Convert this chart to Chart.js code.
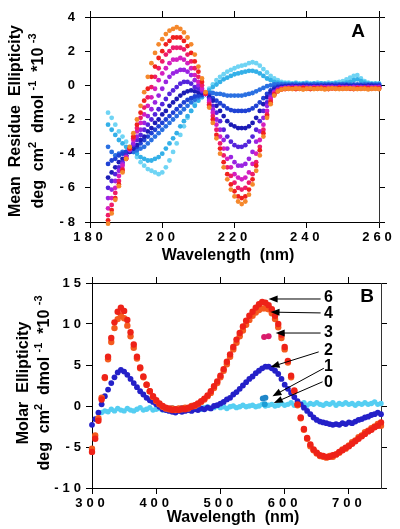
<!DOCTYPE html>
<html lang="en">
<head>
<meta charset="UTF-8" />
<title>CD titration spectra</title>
<script src="https://cdn.jsdelivr.net/npm/chart.js"></script>
<style>
  html, body { margin: 0; padding: 0; background: #fff; }
  body { position: relative; width: 400px; height: 529px; overflow: hidden; }
  canvas { position: absolute; left: 0; }
  #chartA { top: 0; }
  #chartB { top: 265px; }
</style>
</head>
<body>
<canvas id="chartA" width="400" height="265"></canvas>
<canvas id="chartB" width="400" height="264"></canvas>
<script>
// ---------- Panel A : mean residue ellipticity (x10^-3), 185-260 nm ----------
const wavelengthsA = [
  185,186,187,188,189,190,191,192,193,194,
  195,196,197,198,199,200,201,202,203,204,
  205,206,207,208,209,210,211,212,213,214,
  215,216,217,218,219,220,221,222,223,224,
  225,226,227,228,229,230,231,232,233,234,
  235,236,237,238,239,240,241,242,243,244,
  245,246,247,248,249,250,251,252,253,254,
  255,256,257,258,259,260
];

// titration steps, lightest cyan (none added) to orange (most added)
const stepA0 = [
  -1.6,-1.9,-2.3,-2.7,-3.0,-3.3,-3.6,-3.9,-4.2,-4.5,
  -4.7,-4.9,-5.0,-5.1,-5.2,-5.1,-4.8,-4.4,-3.9,-3.4,
  -2.9,-2.4,-1.9,-1.5,-1.1,-0.8,-0.6,-0.45,-0.2,0.05,
  0.3,0.5,0.65,0.8,0.9,1.0,1.1,1.15,1.2,1.3,
  1.35,1.3,1.15,0.95,0.75,0.55,0.4,0.3,0.2,0.15,
  0.15,0.12,0.15,0.1,0.12,0.15,0.1,0.12,0.15,0.12,
  0.1,0.15,0.12,0.15,0.2,0.25,0.35,0.45,0.55,0.6,
  0.4,0.25,0.15,0.12,0.1,0.12
];
const stepA1 = [
  -2.3,-2.6,-2.9,-3.2,-3.4,-3.6,-3.7,-3.9,-4.0,-4.2,
  -4.3,-4.4,-4.4,-4.3,-4.2,-4.0,-3.7,-3.4,-3.1,-2.8,
  -2.4,-2.1,-1.8,-1.5,-1.2,-0.9,-0.7,-0.45,-0.3,-0.1,
  0.05,0.2,0.35,0.45,0.55,0.65,0.7,0.75,0.8,0.85,
  0.85,0.8,0.7,0.55,0.4,0.3,0.2,0.15,0.12,0.1,
  0.1,0.08,0.11,0.09,0.1,0.12,0.08,0.1,0.09,0.11,
  0.1,0.08,0.1,0.12,0.09,0.1,0.15,0.2,0.3,0.35,
  0.25,0.15,0.1,0.09,0.1,0.08
];
const stepA2 = [
  -3.6,-3.9,-4.1,-4.0,-3.9,-3.9,-3.9,-3.9,-3.8,-3.7,
  -3.6,-3.4,-3.2,-3.0,-2.8,-2.6,-2.4,-2.2,-2.0,-1.8,
  -1.6,-1.4,-1.2,-1.0,-0.85,-0.7,-0.6,-0.5,-0.45,-0.45,
  -0.5,-0.5,-0.55,-0.6,-0.6,-0.6,-0.6,-0.6,-0.55,-0.5,
  -0.45,-0.35,-0.25,-0.15,-0.05,0.0,0.05,0.05,0.05,0.05,
  0.04,0.06,0.05,0.03,0.06,0.05,0.04,0.07,0.05,0.04,
  0.06,0.05,0.04,0.06,0.05,0.07,0.05,0.04,0.06,0.05,
  0.04,0.06,0.05,0.05,0.04,0.06
];
const stepA3 = [
  -4.6,-4.4,-4.3,-4.1,-4.0,-3.9,-3.8,-3.7,-3.6,-3.4,
  -3.2,-3.0,-2.8,-2.6,-2.4,-2.2,-2.0,-1.8,-1.6,-1.4,
  -1.2,-1.0,-0.85,-0.75,-0.65,-0.6,-0.55,-0.5,-0.6,-0.75,
  -0.9,-1.05,-1.2,-1.35,-1.45,-1.5,-1.5,-1.5,-1.5,-1.45,
  -1.35,-1.2,-1.0,-0.75,-0.5,-0.3,-0.15,-0.08,-0.05,-0.03,
  -0.02,0.0,-0.03,-0.01,0.01,-0.02,0.0,-0.03,-0.01,0.0,
  -0.02,0.01,-0.01,-0.02,0.0,-0.01,0.01,-0.02,0.0,-0.01,
  0.0,-0.02,-0.01,0.01,-0.01,0.0
];
const stepA4 = [
  -5.4,-5.1,-4.8,-4.5,-4.3,-4.1,-3.9,-3.7,-3.5,-3.2,
  -3.0,-2.7,-2.5,-2.2,-2.0,-1.7,-1.5,-1.2,-1.0,-0.8,
  -0.6,-0.45,-0.35,-0.3,-0.35,-0.4,-0.45,-0.5,-0.7,-0.9,
  -1.2,-1.5,-1.8,-2.1,-2.3,-2.4,-2.5,-2.5,-2.5,-2.4,
  -2.2,-1.9,-1.5,-1.1,-0.7,-0.4,-0.25,-0.15,-0.1,-0.08,
  -0.06,-0.08,-0.05,-0.07,-0.06,-0.04,-0.07,-0.05,-0.06,-0.08,
  -0.05,-0.06,-0.04,-0.07,-0.05,-0.06,-0.04,-0.06,-0.05,-0.07,
  -0.05,-0.06,-0.04,-0.05,-0.06,-0.05
];
const stepA5 = [
  -6.0,-5.6,-5.2,-4.8,-4.5,-4.1,-3.8,-3.5,-3.2,-2.9,
  -2.6,-2.3,-2.0,-1.7,-1.4,-1.1,-0.8,-0.5,-0.3,-0.1,
  0.1,0.2,0.2,0.1,-0.1,-0.2,-0.35,-0.5,-0.8,-1.2,
  -1.6,-2.1,-2.6,-3.0,-3.3,-3.5,-3.6,-3.6,-3.5,-3.3,
  -3.0,-2.6,-2.1,-1.5,-1.0,-0.6,-0.35,-0.2,-0.15,-0.12,
  -0.1,-0.08,-0.11,-0.09,-0.1,-0.07,-0.1,-0.09,-0.11,-0.08,
  -0.1,-0.09,-0.07,-0.1,-0.08,-0.1,-0.09,-0.11,-0.08,-0.1,
  -0.09,-0.1,-0.08,-0.1,-0.09,-0.08
];
const stepA6 = [
  -6.6,-6.1,-5.6,-5.0,-4.6,-4.2,-3.8,-3.4,-3.0,-2.6,
  -2.2,-1.8,-1.4,-1.0,-0.6,-0.2,0.2,0.5,0.7,0.8,
  0.9,0.9,0.8,0.6,0.3,0.0,-0.3,-0.5,-0.9,-1.4,
  -2.0,-2.6,-3.2,-3.7,-4.2,-4.5,-4.7,-4.7,-4.6,-4.3,
  -3.9,-3.3,-2.7,-1.9,-1.2,-0.7,-0.4,-0.25,-0.18,-0.15,
  -0.12,-0.14,-0.1,-0.13,-0.11,-0.12,-0.14,-0.1,-0.12,-0.13,
  -0.11,-0.12,-0.1,-0.13,-0.12,-0.1,-0.12,-0.14,-0.11,-0.12,
  -0.1,-0.12,-0.13,-0.11,-0.12,-0.1
];
const stepA7 = [
  -7.2,-6.6,-6.0,-5.3,-4.7,-4.2,-3.7,-3.2,-2.7,-2.2,
  -1.7,-1.2,-0.7,-0.2,0.3,0.7,1.0,1.3,1.5,1.5,
  1.6,1.5,1.3,1.0,0.6,0.2,-0.2,-0.5,-1.0,-1.6,
  -2.3,-3.0,-3.7,-4.3,-4.8,-5.2,-5.4,-5.5,-5.4,-5.1,
  -4.6,-4.0,-3.2,-2.3,-1.5,-0.8,-0.45,-0.28,-0.2,-0.18,
  -0.15,-0.17,-0.14,-0.16,-0.13,-0.15,-0.17,-0.14,-0.15,-0.13,
  -0.16,-0.14,-0.15,-0.17,-0.13,-0.15,-0.14,-0.16,-0.15,-0.13,
  -0.15,-0.16,-0.14,-0.15,-0.13,-0.15
];
const stepA8 = [
  -7.6,-7.0,-6.3,-5.6,-4.9,-4.3,-3.7,-3.1,-2.5,-1.9,
  -1.3,-0.7,-0.1,0.5,1.0,1.4,1.8,2.0,2.2,2.2,
  2.2,2.1,1.8,1.4,1.0,0.5,0.0,-0.5,-1.1,-1.8,
  -2.6,-3.4,-4.1,-4.8,-5.3,-5.7,-6.0,-6.1,-6.0,-5.7,
  -5.2,-4.5,-3.6,-2.6,-1.7,-0.9,-0.5,-0.3,-0.22,-0.2,
  -0.18,-0.16,-0.2,-0.17,-0.15,-0.18,-0.2,-0.16,-0.18,-0.15,
  -0.18,-0.2,-0.16,-0.18,-0.15,-0.17,-0.18,-0.16,-0.2,-0.17,
  -0.18,-0.15,-0.17,-0.18,-0.16,-0.18
];
const stepA9 = [
  -7.9,-7.3,-6.6,-5.8,-5.0,-4.3,-3.7,-3.0,-2.3,-1.6,
  -0.9,-0.2,0.5,1.1,1.6,2.0,2.4,2.6,2.8,2.8,
  2.8,2.6,2.3,1.9,1.4,0.8,0.2,-0.45,-1.2,-2.0,
  -2.9,-3.7,-4.5,-5.2,-5.8,-6.2,-6.5,-6.6,-6.5,-6.1,
  -5.5,-4.7,-3.8,-2.8,-1.8,-1.0,-0.55,-0.35,-0.25,-0.22,
  -0.2,-0.18,-0.22,-0.2,-0.16,-0.2,-0.22,-0.18,-0.2,-0.17,
  -0.2,-0.22,-0.18,-0.2,-0.16,-0.2,-0.18,-0.2,-0.22,-0.18,
  -0.2,-0.17,-0.2,-0.2,-0.18,-0.2
];
const stepA10 = [
  -8.1,-7.5,-6.7,-5.9,-5.1,-4.3,-3.6,-2.8,-2.0,-1.2,
  -0.4,0.5,1.3,1.9,2.4,2.7,3.0,3.2,3.3,3.4,
  3.3,3.1,2.8,2.4,1.8,1.1,0.4,-0.4,-1.3,-2.2,
  -3.1,-4.0,-4.8,-5.5,-6.1,-6.5,-6.8,-6.95,-6.8,-6.4,
  -5.8,-5.0,-4.1,-3.0,-1.9,-1.1,-0.6,-0.35,-0.25,-0.2,
  -0.2,-0.22,-0.18,-0.2,-0.25,-0.2,-0.18,-0.22,-0.2,-0.2,
  -0.24,-0.2,-0.18,-0.2,-0.22,-0.2,-0.2,-0.18,-0.2,-0.22,
  -0.2,-0.2,-0.24,-0.2,-0.2,-0.22
];
const stepsA = [stepA0, stepA1, stepA2, stepA3, stepA4, stepA5, stepA6, stepA7, stepA8, stepA9, stepA10];
const colorsA = ['#6fd4f4', '#34b0e8', '#2a70e2', '#1f42d4', '#1c1cb6', '#5424dc',
                 '#9a24e2', '#d41fc0', '#ee1c6a', '#f0201e', '#f5882c'];

// ---------- Panel B : molar ellipticity (x10^-3), 300-750 nm ----------
const wavelengthsB = [
  300,305,310,315,320,325,330,335,340,345,
  350,355,360,365,370,375,380,385,390,395,
  400,405,410,415,420,425,430,435,440,445,
  450,455,460,465,470,475,480,485,490,495,
  500,505,510,515,520,525,530,535,540,545,
  550,555,560,565,570,575,580,585,590,595,
  600,605,610,615,620,625,630,635,640,645,
  650,655,660,665,670,675,680,685,690,695,
  700,705,710,715,720,725,730,735,740,745,
  750
];
const eqB0 = [
  null,null,null,-0.8,-0.6,-0.7,-0.4,-0.6,-0.3,-0.5,
  -0.6,-0.3,-0.5,-0.6,-0.4,-0.2,-0.5,-0.4,-0.2,-0.5,
  -0.4,-0.3,-0.5,-0.3,-0.4,-0.2,-0.4,-0.3,-0.2,-0.4,
  -0.3,-0.1,-0.3,-0.2,-0.4,-0.2,-0.1,-0.3,-0.2,0.0,
  -0.2,-0.1,-0.3,-0.1,0.0,-0.2,-0.1,0.1,-0.1,0.0,
  0.1,-0.1,0.0,0.2,0.0,0.1,0.2,0.0,0.1,0.3,
  0.1,0.2,0.4,0.1,0.3,0.2,0.4,0.1,0.3,0.2,
  0.4,0.2,0.1,0.3,0.2,0.4,0.1,0.3,0.2,0.4,
  0.2,0.3,0.1,0.3,0.2,0.4,0.2,0.3,0.5,0.2,
  0.3
];
const eqB2 = [
  -2.3,-1.6,-0.8,0.2,1.2,2.0,2.8,3.5,4.1,4.4,
  4.2,3.8,3.3,2.8,2.3,1.8,1.4,1.0,0.7,0.5,
  0.2,-0.1,-0.4,-0.5,-0.6,-0.7,-0.8,-0.6,-0.7,-0.6,
  -0.5,-0.6,-0.4,-0.5,-0.3,-0.4,-0.2,-0.3,0.0,0.1,
  0.3,0.5,0.8,1.0,1.4,1.7,2.1,2.5,2.9,3.3,
  3.6,4.0,4.3,4.6,4.8,4.8,4.6,4.3,3.9,3.3,
  2.6,2.1,1.6,1.1,0.6,0.2,-0.2,-0.6,-1.0,-1.4,
  -1.7,-1.9,-2.0,-2.1,-2.2,-2.3,-2.2,-2.3,-2.1,-2.2,
  -2.0,-2.1,-1.9,-1.7,-1.6,-1.4,-1.3,-1.1,-1.0,-0.8,
  -1.0
];
const eqB4 = [
  -5.2,-3.6,-1.5,1.0,3.4,5.7,7.8,9.5,10.6,11.0,
  10.7,9.8,8.5,7.1,5.8,4.6,3.5,2.6,1.8,1.1,
  0.6,0.2,-0.1,-0.3,-0.4,-0.3,-0.5,-0.3,-0.4,-0.2,
  -0.3,0.0,0.0,0.2,0.5,0.8,1.2,1.6,2.2,2.8,
  3.5,4.3,5.1,6.0,6.9,7.7,8.5,9.2,9.9,10.5,
  11.0,11.4,11.7,11.9,11.9,11.8,11.3,10.6,9.6,8.3,
  6.9,5.3,3.5,1.8,0.1,-1.5,-2.9,-4.0,-4.9,-5.4,
  -5.8,-6.1,-6.2,-6.3,-6.1,-6.2,-5.9,-5.7,-5.3,-5.2,
  -4.8,-4.4,-4.2,-3.8,-3.6,-3.2,-3.0,-2.7,-2.5,-2.2,
  -2.4
];
const eqB6 = [
  -5.6,-4.0,-1.8,0.8,3.5,6.0,8.3,10.2,11.5,12.0,
  11.6,10.5,9.0,7.5,6.0,4.7,3.6,2.6,1.8,1.2,
  0.7,0.3,0.0,-0.2,-0.3,-0.5,-0.4,-0.5,-0.3,-0.4,
  -0.2,-0.1,0.1,0.3,0.6,0.9,1.3,1.8,2.4,3.0,
  3.7,4.5,5.4,6.3,7.2,8.1,8.9,9.7,10.4,11.0,
  11.5,12.0,12.4,12.7,12.6,12.3,11.8,11.0,10.0,8.7,
  7.2,5.5,3.7,1.9,0.2,-1.4,-2.8,-3.9,-4.7,-5.3,
  -5.7,-6.0,-6.1,-6.2,-6.2,-6.0,-5.9,-5.6,-5.4,-5.1,
  -4.9,-4.6,-4.3,-4.0,-3.7,-3.4,-3.1,-2.9,-2.6,-2.4,
  -2.0
];
// single-wavelength readings for 0, 1 and 3 equivalents
const spotB0 = [[569, 0.2]];
const spotB1 = [[566, 0.9], [570, 1.0]];
const spotB3 = [[568, 8.4], [575, 8.5]];

// arrow labels: text position, arrow tail and head (nm, value)
const arrowLabels = ['6', '4', '3', '2', '1', '0'];
const arrowText = [[668, 13.2], [668, 11.3], [668, 9.0], [668, 6.8], [668, 4.75], [668, 2.9]];
const arrowTail = [[656, 13.05], [656, 11.35], [656, 8.9], [653, 6.6], [661, 4.6], [659, 2.95]];
const arrowHead = [[575, 13.05], [578, 11.45], [586, 8.9], [578, 4.75], [581, 1.2], [583, 0.37]];

const FONT = "'Liberation Sans', Arial, Helvetica, sans-serif";

function toPoints(xs, ys) {
  const pts = [];
  xs.forEach((x, i) => { if (ys[i] !== null && ys[i] !== undefined) pts.push({ x: x, y: ys[i] }); });
  return pts;
}

function pairs(list) {
  return list.map(p => ({ x: p[0], y: p[1] }));
}

function dotSet(label, data, color, radius, order) {
  return {
    label: label, data: data,
    backgroundColor: color, borderColor: color, borderWidth: 0,
    pointRadius: radius, pointHoverRadius: radius,
    order: order, clip: 5
  };
}

// text with superscripts, centred on (x, y); vertical = rotated to read upward
function drawRich(ctx, parts, x, y, vertical) {
  ctx.save();
  ctx.translate(x, y);
  if (vertical) ctx.rotate(-Math.PI / 2);
  ctx.textAlign = 'left';
  ctx.textBaseline = 'alphabetic';
  const fontFor = p => p.sup ? `bold 11px ${FONT}` : `bold 16px ${FONT}`;
  let total = 0;
  parts.forEach(p => { ctx.font = fontFor(p); total += ctx.measureText(p.text).width; });
  let cx = -total / 2;
  const base = vertical ? 6 : 0;
  parts.forEach(p => {
    ctx.font = fontFor(p);
    ctx.fillText(p.text, cx, p.sup ? base - 7 : base);
    cx += ctx.measureText(p.text).width;
  });
  ctx.restore();
}

function drawArrow(ctx, x1, y1, x2, y2) {
  const a = Math.atan2(y2 - y1, x2 - x1);
  const c = Math.cos(a), s = Math.sin(a);
  ctx.beginPath();
  ctx.moveTo(x1, y1);
  ctx.lineTo(x2 - 6 * c, y2 - 6 * s);
  ctx.stroke();
  ctx.beginPath();
  ctx.moveTo(x2, y2);
  ctx.lineTo(x2 - 9 * c + 3.5 * s, y2 - 9 * s - 3.5 * c);
  ctx.lineTo(x2 - 9 * c - 3.5 * s, y2 - 9 * s + 3.5 * c);
  ctx.closePath();
  ctx.fill();
}

const unitsLine = [
  { text: 'deg  cm' }, { text: '2', sup: true }, { text: '  dmol ' }, { text: '-1', sup: true },
  { text: '  *10 ' }, { text: '-3', sup: true }
];

function decor(cfg) {
  return {
    id: 'decor',
    beforeDraw(chart) { chart.ctx.letterSpacing = '4px'; },
    afterDraw(chart) {
      const ctx = chart.ctx;
      ctx.save();
      ctx.letterSpacing = '0px';
      ctx.fillStyle = '#000';
      ctx.strokeStyle = '#000';
      ctx.lineWidth = 1;
      drawRich(ctx, [{ text: cfg.yTitle }], cfg.yTitleX[0], cfg.yTitleY, true);
      drawRich(ctx, unitsLine, cfg.yTitleX[1], cfg.yTitleY, true);
      drawRich(ctx, [{ text: 'Wavelength  (nm)' }], cfg.xTitle[0], cfg.xTitle[1], false);
      ctx.font = `bold 19px ${FONT}`;
      ctx.textAlign = 'center';
      ctx.textBaseline = 'alphabetic';
      ctx.fillText(cfg.letter, cfg.letterPos[0], cfg.letterPos[1]);
      if (cfg.arrows) {
        const xs = chart.scales.x, ys = chart.scales.y;
        ctx.font = `bold 16px ${FONT}`;
        ctx.textBaseline = 'middle';
        arrowLabels.forEach((lab, i) => {
          drawArrow(ctx,
            xs.getPixelForValue(arrowTail[i][0]), ys.getPixelForValue(arrowTail[i][1]),
            xs.getPixelForValue(arrowHead[i][0]), ys.getPixelForValue(arrowHead[i][1]));
          ctx.fillText(lab, xs.getPixelForValue(arrowText[i][0]), ys.getPixelForValue(arrowText[i][1]));
        });
      }
      ctx.restore();
      ctx.letterSpacing = '0px';
    }
  };
}

function buildScales(xr, yr, box) {
  const marks = len => ({ drawOnChartArea: false, drawTicks: true, tickLength: len, color: '#000', lineWidth: 1 });
  const tickFont = { family: FONT, size: 13, weight: 'bold' };
  return {
    x: {
      type: 'linear', position: 'bottom', min: xr[0], max: xr[1],
      ticks: { stepSize: xr[2], includeBounds: false, color: '#000', font: tickFont, padding: 2, maxRotation: 0, autoSkip: false },
      grid: marks(6), border: { color: '#000', width: 1 },
      afterFit: s => { s.height = box.bottom; }
    },
    xTop: {
      type: 'linear', position: 'top', min: xr[0], max: xr[1],
      ticks: { stepSize: xr[2], includeBounds: false, display: false },
      grid: marks(6), border: { color: '#000', width: 1 },
      afterFit: s => { s.height = box.top; }
    },
    y: {
      type: 'linear', position: 'left', min: yr[0], max: yr[1],
      ticks: { stepSize: yr[2], color: '#000', font: tickFont, padding: box.yPad },
      grid: marks(box.yTick), border: { color: '#000', width: 1 },
      afterFit: s => { s.width = box.left; }
    },
    yRight: {
      type: 'linear', position: 'right', min: yr[0], max: yr[1],
      ticks: { stepSize: yr[2], display: false },
      grid: marks(6), border: { color: '#333', width: 1 },
      afterFit: s => { s.width = box.right; }
    }
  };
}

const commonOptions = {
  responsive: false,
  animation: false,
  events: [],
  layout: { padding: 0 }
};

// panel A, drawn with the orange spectrum on top
const datasetsA = stepsA.map((vals, i) =>
  dotSet('step ' + i, toPoints(wavelengthsA, vals), colorsA[i], 2.4, stepsA.length - i));

new Chart(document.getElementById('chartA'), {
  type: 'scatter',
  data: { datasets: datasetsA },
  options: Object.assign({}, commonOptions, {
    plugins: { legend: { display: false }, tooltip: { enabled: false } },
    scales: buildScales([180, 260, 20], [-8, 4, 2],
      { left: 90, right: 21, top: 17, bottom: 43, yPad: 6, yTick: 5 })
  }),
  plugins: [decor({
    yTitle: 'Mean  Residue  Ellipticity', yTitleX: [14, 37], yTitleY: 121,
    xTitle: [228, 260], letter: 'A', letterPos: [358, 37]
  })]
});

const datasetsB = [
  dotSet('0', toPoints(wavelengthsB, eqB0), '#55cef2', 2.7, 9),
  dotSet('2', toPoints(wavelengthsB, eqB2), '#2420c8', 2.9, 8),
  dotSet('4', toPoints(wavelengthsB, eqB4), '#f45a1e', 3.2, 7),
  dotSet('6', toPoints(wavelengthsB, eqB6), '#ee2218', 3.2, 6),
  dotSet('0 spot', pairs(spotB0), '#1c9ed6', 3, 3),
  dotSet('1', pairs(spotB1), '#1f86c8', 3, 2),
  dotSet('3', pairs(spotB3), '#d81c6c', 3, 1)
];

new Chart(document.getElementById('chartB'), {
  type: 'scatter',
  data: { datasets: datasetsB },
  options: Object.assign({}, commonOptions, {
    plugins: { legend: { display: false }, tooltip: { enabled: false } },
    scales: buildScales([300, 750, 100], [-10, 15, 5],
      { left: 92, right: 19, top: 18, bottom: 41, yPad: 1, yTick: 6 })
  }),
  plugins: [decor({
    yTitle: 'Molar  Ellipticity', yTitleX: [22, 43], yTitleY: 118,
    xTitle: [233, 257], letter: 'B', letterPos: [367, 37], arrows: true
  })]
});
</script>
</body>
</html>
